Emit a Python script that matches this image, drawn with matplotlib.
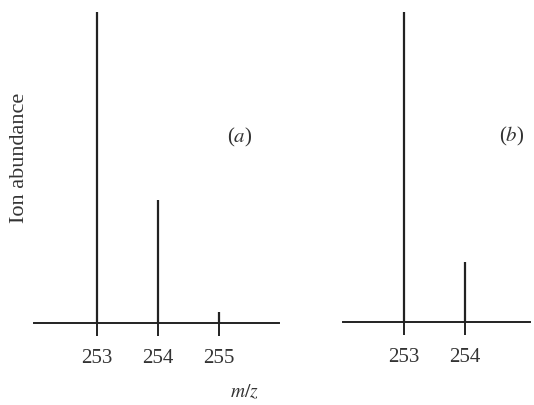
import matplotlib
matplotlib.use("Agg")
import matplotlib.pyplot as plt

# isotope clusters (relative ion abundance, base peak = 100)
mz_a = [253, 254, 255]
abund_a = [100, 39.5, 3.5]
mz_b = [253, 254]
abund_b = [100, 19.4]
ticks_a = [253, 254, 255]
ticks_b = [253, 254]

plt.rcParams["font.family"] = ["Liberation Serif", "DejaVu Serif"]
plt.rcParams["mathtext.fontset"] = "stix"
INK = "#222222"
TXT = "#333333"

fig = plt.figure(figsize=(5.34, 4.05), dpi=100)
ax_a = fig.add_axes([34/534, 82/405, 245/534, 311/405])
ax_b = fig.add_axes([343/534, 83/405, 187/534, 310/405])

for ax, mz, ab, tk, xl, lab, lpos in [
        (ax_a, mz_a, abund_a, ticks_a, (251.97, 255.98), "a", (255.34, 59.5)),
        (ax_b, mz_b, abund_b, ticks_b, (252.0, 255.07), "b", (254.77, 59.7))]:
    ax.vlines(mz, 0, ab, color=INK, lw=1.6)
    ax.set_xlim(*xl)
    ax.set_ylim(0, 100)
    for s in ("top", "right", "left"):
        ax.spines[s].set_visible(False)
    ax.spines["bottom"].set_color(INK)
    ax.spines["bottom"].set_linewidth(1.4)
    ax.set_yticks([])
    ax.set_xticks(tk)
    ax.tick_params(axis="x", direction="out", length=9, width=1.4, color=INK,
                   labelsize=15, labelcolor=TXT, pad=10)
    ax.patch.set_alpha(0)
    ax.text(*lpos, "(" + r"$\it{%s}$" % lab + ")", fontsize=15, color=TXT,
            ha="center", va="center")

fig.text(20/534, 1 - 158/405, "Ion abundance", rotation=90, fontsize=16,
         color=TXT, ha="center", va="center")
fig.text(244/534, 1 - 392/405, r"$m/z$", fontsize=14, color=TXT,
         ha="center", va="center")

fig.savefig("out.png", dpi=100)
